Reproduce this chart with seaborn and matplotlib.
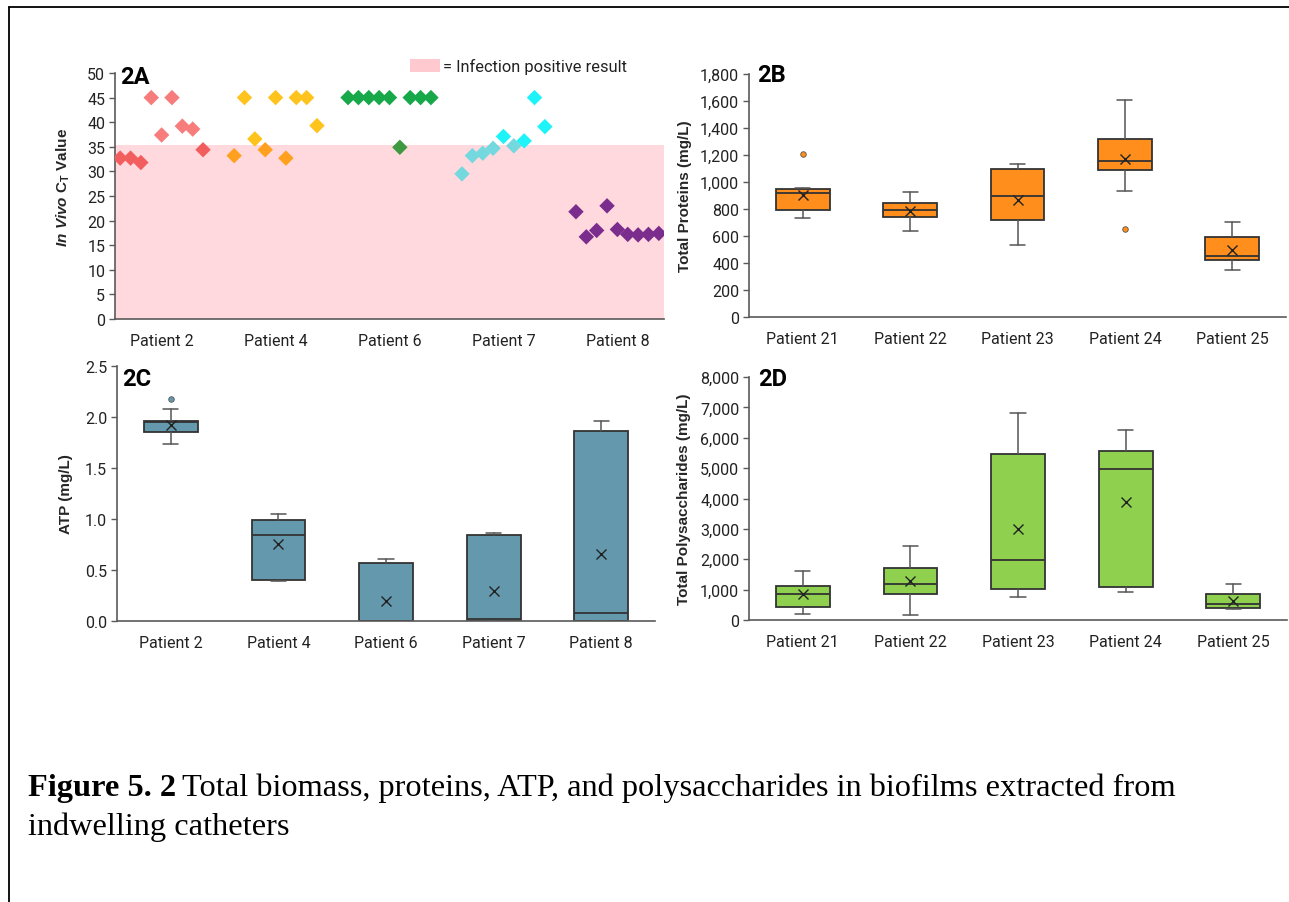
import numpy as np
import pandas as pd
import matplotlib
matplotlib.use("Agg")
import matplotlib.pyplot as plt
import seaborn as sns
from matplotlib.lines import Line2D
from matplotlib.patches import Rectangle
from matplotlib.ticker import FuncFormatter, MultipleLocator

# ---------------- data ----------------
ct_patients = ["Patient 2", "Patient 4", "Patient 6", "Patient 7", "Patient 8"]
ct_p2 = [32.7, 32.7, 31.8, 45.0, 37.4, 45.0, 39.2, 38.6, 34.4]
ct_p4 = [33.2, 45.0, 36.6, 34.4, 45.0, 32.7, 45.0, 45.0, 39.3]
ct_p6 = [45.0, 45.0, 45.0, 45.0, 45.0, 34.9, 45.0, 45.0, 45.0]
ct_p7 = [29.5, 33.2, 33.7, 34.7, 37.1, 35.2, 36.2, 45.0, 39.1]
ct_p8 = [21.8, 16.7, 18.0, 23.0, 18.2, 17.2, 17.1, 17.2, 17.4]
ct_light = ["#F77C7C", "#FFC31E", "#17A84A", "#1EF3FA", "#7B2D8E"]
ct_dark = ["#F25E5E", "#FFA11F", "#3E9A40", "#74D8DF", "#7B2D8E"]
infection_threshold = 35.4

prot_patients = ["Patient 21", "Patient 22", "Patient 23", "Patient 24", "Patient 25"]
prot_low = [730, 635, 530, 930, 345]
prot_q1 = [795, 740, 715, 1090, 425]
prot_med = [920, 795, 900, 1155, 450]
prot_q3 = [950, 845, 1100, 1315, 595]
prot_high = [958, 925, 1130, 1605, 705]
prot_mean = [905, 785, 865, 1170, 500]
prot_out = [[1210], [], [], [650], []]

atp_patients = ["Patient 2", "Patient 4", "Patient 6", "Patient 7", "Patient 8"]
atp_low = [1.74, 0.395, 0.0, 0.0, 0.0]
atp_q1 = [1.856, 0.405, 0.0, 0.0, 0.0]
atp_med = [1.955, 0.84, 0.0, 0.023, 0.078]
atp_q3 = [1.96, 0.987, 0.565, 0.84, 1.86]
atp_high = [2.075, 1.046, 0.608, 0.863, 1.964]
atp_mean = [1.925, 0.755, 0.193, 0.294, 0.654]
atp_out = [[2.18], [], [], [], []]

poly_patients = ["Patient 21", "Patient 22", "Patient 23", "Patient 24", "Patient 25"]
poly_low = [200, 150, 750, 920, 350]
poly_q1 = [420, 870, 1030, 1090, 380]
poly_med = [870, 1170, 1970, 4970, 540]
poly_q3 = [1130, 1700, 5480, 5570, 870]
poly_high = [1600, 2430, 6800, 6270, 1170]
poly_mean = [850, 1300, 3000, 3900, 630]
poly_out = [[], [], [], [], []]

# ---------------- style ----------------
sns.set_theme(style="white")
NARROW = ["Liberation Sans Narrow", "Roboto", "DejaVu Sans"]
plt.rcParams["font.family"] = NARROW
plt.rcParams["mathtext.fontset"] = "custom"
plt.rcParams["mathtext.bf"] = "Liberation Sans:bold"
plt.rcParams["mathtext.it"] = "Liberation Sans:italic:bold"
plt.rcParams["mathtext.rm"] = "Liberation Sans:bold"

W, H = 1289, 903
fig = plt.figure(figsize=(W / 100, H / 100), dpi=100)
fig.patch.set_facecolor("white")


def fx(px):
    return px / W


def fy(py):
    return 1 - py / H


def add_ax(l, t, r, b):
    return fig.add_axes([fx(l), fy(b), fx(r) - fx(l), fy(t) - fy(b)])


SPINE = "#5a5a5a"
TICK_FS = 11.5
LAB_FS = 11


def style_axis(ax):
    for s in ["top", "right"]:
        ax.spines[s].set_visible(False)
    for s in ["left", "bottom"]:
        ax.spines[s].set_color(SPINE)
        ax.spines[s].set_linewidth(1.2)
    ax.tick_params(axis="y", length=4, width=1.0, color=SPINE, labelsize=TICK_FS,
                   labelcolor="#222222", pad=3, left=True, direction="out")
    ax.tick_params(axis="x", length=0, labelsize=TICK_FS, labelcolor="#222222", pad=10)
    ax.grid(False)
    ax.set_facecolor("white")


# ---------------- 2A ----------------
axA = add_ax(115, 74, 664, 320)
ct_all = [ct_p2, ct_p4, ct_p6, ct_p7, ct_p8]
rows = []
for g, (name, vals) in enumerate(zip(ct_patients, ct_all)):
    for j, v in enumerate(vals):
        rows.append({"pos": 11 * g + j, "ct": v,
                     "col": ct_dark[g] if v < infection_threshold else ct_light[g]})
dfA = pd.DataFrame(rows)
axA.axhspan(0, infection_threshold, color="#FFD9DE", zorder=0, lw=0)
palette = {c: c for c in dfA["col"].unique()}
sns.scatterplot(data=dfA, x="pos", y="ct", hue="col", palette=palette, marker="D",
                s=62, edgecolor="none", legend=False, ax=axA, zorder=3)
axA.set_xlim(-0.5, 52.5)
axA.set_ylim(0, 50)
axA.yaxis.set_major_locator(MultipleLocator(5))
axA.set_xticks([11 * g + 4 for g in range(len(ct_patients))])
axA.set_xticklabels(ct_patients)
style_axis(axA)
axA.set_xlabel("")
axA.set_ylabel(r"$\mathit{In\ Vivo}$ $\mathbf{C}_{\mathbf{T}}$ Value",
               fontsize=LAB_FS, fontweight="bold", family="Liberation Sans")
axA.yaxis.set_label_coords(-0.078, 0.54)

# legend for the shaded band
fig.add_artist(Rectangle((fx(410), fy(73)), fx(440) - fx(410), fy(60) - fy(73),
                         transform=fig.transFigure, facecolor="#FFC9D0", edgecolor="none"))
fig.text(fx(443), fy(67), "= Infection positive result", fontsize=11.8,
         va="center", ha="left", color="#222222")


# ---------------- box panels ----------------
def draw_box(ax, labels, lo, q1, med, q3, hi, mean, out, color):
    stats = []
    for i, lab in enumerate(labels):
        stats.append(dict(label=lab, whislo=lo[i], q1=q1[i], med=med[i], q3=q3[i],
                          whishi=hi[i], mean=mean[i], fliers=out[i]))
    ax.bxp(stats, positions=list(range(len(labels))), widths=0.5, capwidths=0.14,
           patch_artist=True, showmeans=True, showfliers=True,
           boxprops=dict(facecolor=color, edgecolor="#333333", linewidth=1.3),
           medianprops=dict(color="#333333", linewidth=1.3),
           whiskerprops=dict(color="#555555", linewidth=1.1),
           capprops=dict(color="#555555", linewidth=1.1),
           meanprops=dict(marker="x", markeredgecolor="#222222", markersize=7,
                          markeredgewidth=1.0),
           flierprops=dict(marker="o", markerfacecolor=color, markeredgecolor="#555555",
                           markersize=4, markeredgewidth=0.6))
    ax.set_xlim(-0.5, len(labels) - 0.5)
    style_axis(ax)


axB = add_ax(749, 75, 1286, 318)
draw_box(axB, prot_patients, prot_low, prot_q1, prot_med, prot_q3, prot_high,
         prot_mean, prot_out, "#FF8E1C")
axB.set_ylim(0, 1800)
axB.yaxis.set_major_locator(MultipleLocator(200))
axB.yaxis.set_major_formatter(FuncFormatter(lambda v, p: f"{v:,.0f}"))
axB.set_ylabel("Total Proteins (mg/L)", fontsize=LAB_FS, fontweight="bold",
               family="Liberation Sans")
axB.yaxis.set_label_coords(-0.107, 0.5)

axC = add_ax(117, 367, 655, 622)
draw_box(axC, atp_patients, atp_low, atp_q1, atp_med, atp_q3, atp_high,
         atp_mean, atp_out, "#6499AD")
axC.set_ylim(0, 2.5)
axC.yaxis.set_major_locator(MultipleLocator(0.5))
axC.yaxis.set_major_formatter(FuncFormatter(lambda v, p: f"{v:.1f}"))
axC.set_ylabel("ATP (mg/L)", fontsize=LAB_FS, fontweight="bold", family="Liberation Sans")
axC.yaxis.set_label_coords(-0.082, 0.5)

axD = add_ax(749, 378, 1287, 621)
draw_box(axD, poly_patients, poly_low, poly_q1, poly_med, poly_q3, poly_high,
         poly_mean, poly_out, "#8FD14F")
axD.set_ylim(0, 8000)
axD.yaxis.set_major_locator(MultipleLocator(1000))
axD.yaxis.set_major_formatter(FuncFormatter(lambda v, p: f"{v:,.0f}"))
axD.set_ylabel("Total Polysaccharides (mg/L)", fontsize=LAB_FS, fontweight="bold",
               family="Liberation Sans")
axD.yaxis.set_label_coords(-0.107, 0.5)

# panel letters
for txt, x, y in [("2A", 120, 77), ("2B", 757, 75), ("2C", 122, 379), ("2D", 758, 379)]:
    fig.text(fx(x), fy(y), txt, fontsize=17, fontweight="bold", va="center", ha="left",
             color="black")

# frame
fig.add_artist(Line2D([fx(9), fx(9)], [0, fy(8)], transform=fig.transFigure,
                      color="black", lw=1.3))
fig.add_artist(Line2D([fx(9), 1], [fy(8), fy(8)], transform=fig.transFigure,
                      color="black", lw=1.3))

# caption
SERIF = ["Liberation Serif", "DejaVu Serif"]
cap_fs = 23.3
t1 = fig.text(fx(28), fy(796), "Figure 5. 2", fontsize=cap_fs, fontweight="bold",
              family=SERIF, va="baseline", ha="left", color="black")
r = fig.canvas.get_renderer()
bb = t1.get_window_extent(renderer=r)
fig.text(bb.x1 / W + fx(6), fy(796),
         "Total biomass, proteins, ATP, and polysaccharides in biofilms extracted from",
         fontsize=cap_fs, family=SERIF, va="baseline", ha="left", color="black")
fig.text(fx(28), fy(835), "indwelling catheters", fontsize=cap_fs, family=SERIF,
         va="baseline", ha="left", color="black")

fig.savefig("out.png", dpi=100, facecolor="white")
